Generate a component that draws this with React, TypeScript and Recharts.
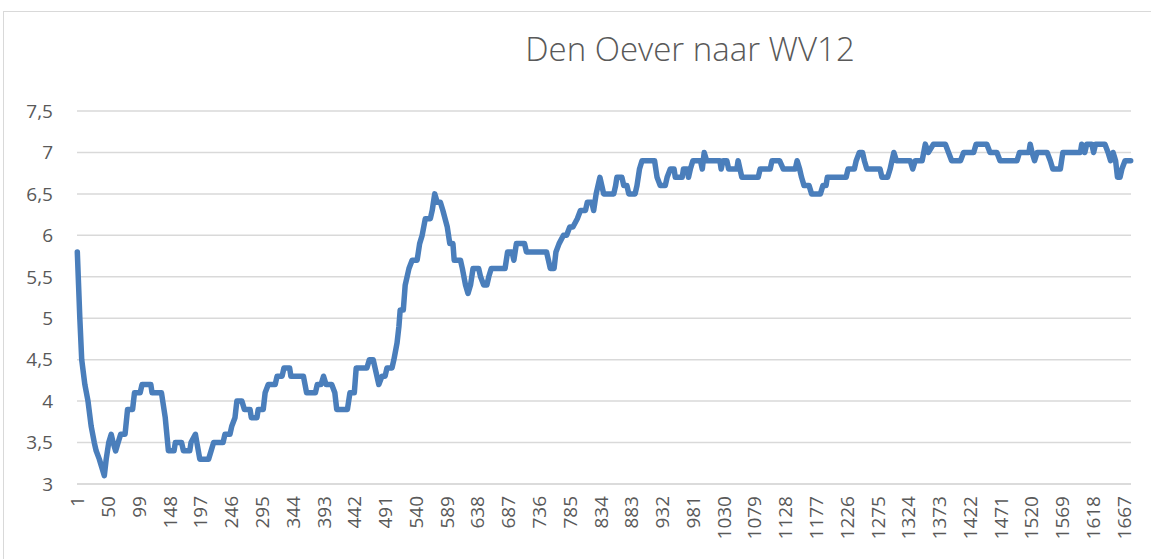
import { LineChart, Line, XAxis, YAxis, CartesianGrid } from "recharts";

// sample number where the level changes
const SAMPLE = [
  1, 3, 5, 8, 13, 18, 23, 28, 31, 36, 40, 44, 47, 51, 55, 58, 62, 66, 70, 77,
  81, 89, 92, 101, 104, 118, 120, 135, 141, 146, 155, 157, 167, 170, 180, 182, 189, 196, 210, 214,
  218, 233, 236, 244, 247, 252, 255, 263, 267, 276, 278, 287, 289, 297, 300, 305, 316, 319, 327, 330,
  339, 341, 361, 366, 380, 383, 389, 393, 397, 406, 411, 414, 431, 435, 442, 445, 462, 466, 472, 475,
  481, 486, 491, 494, 502, 505, 510, 513, 515, 520, 523, 526, 529, 534, 542, 546, 550, 555, 563, 566,
  570, 574, 579, 583, 590, 594, 599, 601, 611, 614, 619, 623, 627, 631, 640, 643, 648, 653, 656, 660,
  682, 686, 693, 696, 700, 713, 716, 748, 751, 754, 760, 763, 768, 775, 780, 785, 790, 797, 802, 810,
  813, 820, 823, 827, 833, 836, 839, 855, 858, 860, 868, 871, 876, 879, 889, 892, 896, 900, 920, 924,
  929, 937, 940, 945, 951, 953, 964, 966, 972, 974, 977, 981, 993, 996, 999, 1003, 1024, 1026, 1029, 1035,
  1038, 1051, 1053, 1056, 1059, 1085, 1088, 1104, 1107, 1119, 1125, 1144, 1147, 1151, 1154, 1158, 1166, 1170, 1184, 1188,
  1193, 1195, 1225, 1228, 1238, 1241, 1246, 1251, 1254, 1258, 1279, 1282, 1291, 1295, 1298, 1301, 1305, 1327, 1331, 1335,
  1346, 1351, 1356, 1364, 1383, 1388, 1393, 1407, 1412, 1428, 1432, 1449, 1454, 1465, 1470, 1497, 1501, 1516, 1518, 1521,
  1525, 1529, 1545, 1550, 1554, 1566, 1570, 1598, 1600, 1605, 1608, 1616, 1619, 1622, 1637, 1642, 1646, 1650, 1654, 1657,
  1661, 1664, 1669, 1678,
];

const LEVEL = [
  5.8, 5.4, 5.0, 4.5, 4.2, 4.0, 3.7, 3.5, 3.4, 3.3, 3.2, 3.1, 3.3, 3.5, 3.6, 3.5, 3.4, 3.5, 3.6, 3.6,
  3.9, 3.9, 4.1, 4.1, 4.2, 4.2, 4.1, 4.1, 3.8, 3.4, 3.4, 3.5, 3.5, 3.4, 3.4, 3.5, 3.6, 3.3, 3.3, 3.4,
  3.5, 3.5, 3.6, 3.6, 3.7, 3.8, 4.0, 4.0, 3.9, 3.9, 3.8, 3.8, 3.9, 3.9, 4.1, 4.2, 4.2, 4.3, 4.3, 4.4,
  4.4, 4.3, 4.3, 4.1, 4.1, 4.2, 4.2, 4.3, 4.2, 4.2, 4.1, 3.9, 3.9, 4.1, 4.1, 4.4, 4.4, 4.5, 4.5, 4.4,
  4.2, 4.3, 4.3, 4.4, 4.4, 4.5, 4.7, 4.9, 5.1, 5.1, 5.4, 5.5, 5.6, 5.7, 5.7, 5.9, 6.0, 6.2, 6.2, 6.3,
  6.5, 6.4, 6.4, 6.3, 6.1, 5.9, 5.9, 5.7, 5.7, 5.6, 5.4, 5.3, 5.4, 5.6, 5.6, 5.5, 5.4, 5.4, 5.5, 5.6,
  5.6, 5.8, 5.8, 5.7, 5.9, 5.9, 5.8, 5.8, 5.7, 5.6, 5.6, 5.8, 5.9, 6.0, 6.0, 6.1, 6.1, 6.2, 6.3, 6.3,
  6.4, 6.4, 6.3, 6.5, 6.7, 6.6, 6.5, 6.5, 6.6, 6.7, 6.7, 6.6, 6.6, 6.5, 6.5, 6.6, 6.8, 6.9, 6.9, 6.7,
  6.6, 6.6, 6.7, 6.8, 6.8, 6.7, 6.7, 6.8, 6.8, 6.7, 6.8, 6.9, 6.9, 6.8, 7.0, 6.9, 6.9, 6.8, 6.9, 6.9,
  6.8, 6.8, 6.9, 6.8, 6.7, 6.7, 6.8, 6.8, 6.9, 6.9, 6.8, 6.8, 6.9, 6.8, 6.7, 6.6, 6.6, 6.5, 6.5, 6.6,
  6.6, 6.7, 6.7, 6.8, 6.8, 6.9, 7.0, 7.0, 6.9, 6.8, 6.8, 6.7, 6.7, 6.8, 6.9, 7.0, 6.9, 6.9, 6.8, 6.9,
  6.9, 7.1, 7.0, 7.1, 7.1, 7.0, 6.9, 6.9, 7.0, 7.0, 7.1, 7.1, 7.0, 7.0, 6.9, 6.9, 7.0, 7.0, 7.1, 7.0,
  6.9, 7.0, 7.0, 6.9, 6.8, 6.8, 7.0, 7.0, 7.1, 7.0, 7.1, 7.1, 7.0, 7.1, 7.1, 7.0, 6.9, 7.0, 6.9, 6.7,
  6.7, 6.8, 6.9, 6.9,
];

const X_TICKS = [
  1, 50, 99, 148, 197, 246, 295, 344, 393, 442, 491, 540, 589, 638, 687, 736, 785, 834,
  883, 932, 981, 1030, 1079, 1128, 1177, 1226, 1275, 1324, 1373, 1422, 1471, 1520, 1569, 1618, 1667,
];
const Y_TICKS = [3, 3.5, 4, 4.5, 5, 5.5, 6, 6.5, 7, 7.5];
const LAST_SAMPLE = 1678;

const TEXT = "#595959";
const GRID = "#d9d9d9";
const LINE = "#4a7ebb";
const FONT = "'Open Sans', sans-serif";

const data = SAMPLE.map((n, i) => ({ n, v: LEVEL[i] }));

function XTick({ x, y, payload }: any) {
  return (
    <text
      x={x}
      y={y}
      transform={`rotate(-90, ${x}, ${y})`}
      textAnchor="end"
      dominantBaseline="central"
      fill={TEXT}
      fontSize={19}
      fontFamily={FONT}
    >
      {payload.value}
    </text>
  );
}

export default function App() {
  return (
    <div style={{ position: "absolute", left: 0, top: 0, width: 1151, height: 559, overflow: "hidden", background: "#fff" }}>
      <div
        style={{
          position: "absolute",
          left: 3,
          top: 11,
          width: 1300,
          height: 700,
          border: `1.5px solid ${GRID}`,
        }}
      />
      <div
        style={{
          position: "absolute",
          left: 690,
          top: 27,
          transform: "translateX(-50%)",
          whiteSpace: "nowrap",
          fontFamily: FONT,
          fontSize: 33,
          fontWeight: 300,
          color: TEXT,
          lineHeight: "44px",
        }}
      >
        Den Oever naar WV12
      </div>
      <div style={{ position: "absolute", left: 0, top: 0 }}>
        <LineChart width={1151} height={559} data={data} margin={{ top: 111, right: 20, bottom: 0, left: 0 }}>
          <CartesianGrid vertical={false} stroke={GRID} strokeWidth={1.5} />
          <XAxis
            dataKey="n"
            type="number"
            domain={[0.5, LAST_SAMPLE + 0.5]}
            ticks={X_TICKS}
            interval={0}
            tickLine={false}
            tickSize={0}
            tickMargin={12}
            axisLine={{ stroke: GRID, strokeWidth: 1.5 }}
            tick={<XTick />}
            height={75}
          />
          <YAxis
            domain={[3, 7.5]}
            ticks={Y_TICKS}
            interval={0}
            width={77}
            axisLine={false}
            tickLine={false}
            tickSize={0}
            tickMargin={24}
            tick={{ fill: TEXT, fontSize: 19, fontFamily: FONT }}
            tickFormatter={(v: number) => String(v).replace(".", ",")}
          />
          <Line
            type="linear"
            dataKey="v"
            stroke={LINE}
            strokeWidth={5.5}
            strokeLinejoin="round"
            strokeLinecap="round"
            dot={false}
            isAnimationActive={false}
          />
        </LineChart>
      </div>
    </div>
  );
}
